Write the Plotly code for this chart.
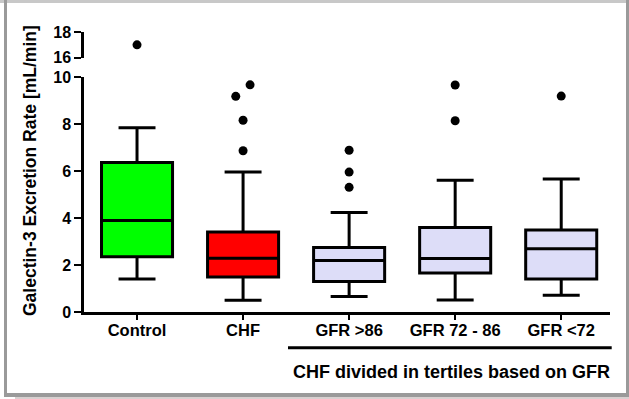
import plotly.graph_objects as go

categories = ["Control", "CHF", "GFR >86", "GFR 72 - 86", "GFR <72"]
lower_whisker = [1.41, 0.50, 0.66, 0.51, 0.71]
q1 = [2.35, 1.49, 1.30, 1.66, 1.41]
median = [3.90, 2.29, 2.19, 2.28, 2.69]
q3 = [6.37, 3.41, 2.75, 3.60, 3.49]
upper_whisker = [7.85, 5.97, 4.24, 5.61, 5.67]
fill_colors = ["#00FF00", "#FF0000", "#DDDDF8", "#DDDDF8", "#DDDDF8"]

# outliers (group index, value, horizontal jitter in category units)
outlier_group = [1, 1, 1, 1, 2, 2, 2, 3, 3, 4]
outlier_value = [9.68, 9.19, 8.17, 6.87, 6.89, 5.96, 5.31, 9.67, 8.15, 9.20]
outlier_jitter = [0.066, -0.069, 0, 0, 0, 0, 0, 0, 0, 0]
# outliers on the upper (broken) segment of the axis
upper_outlier_group = [0]
upper_outlier_value = [17.0]

lower_ticks = [0, 2, 4, 6, 8, 10]
upper_ticks = [16, 18]

W, H = 629, 399
L, R, T, B = 84, 19, 32, 87
PW, PH = W - L - R, H - T - B


def px(x):
    return (x - L) / PW


def py(y):
    return (H - B - y) / PH


FONT = "Liberation Sans"
fig = go.Figure()
for i, c in enumerate(categories):
    fig.add_trace(go.Box(
        x=[i], q1=[q1[i]], median=[median[i]], q3=[q3[i]],
        lowerfence=[lower_whisker[i]], upperfence=[upper_whisker[i]],
        width=0.67, whiskerwidth=0.52, fillcolor=fill_colors[i],
        line=dict(color="black", width=3), boxpoints=False,
        showlegend=False, name=c,
    ))

fig.add_trace(go.Scatter(
    x=[g + j for g, j in zip(outlier_group, outlier_jitter)], y=outlier_value,
    mode="markers", marker=dict(color="black", size=9), showlegend=False,
))
fig.add_trace(go.Scatter(
    x=upper_outlier_group, y=upper_outlier_value, yaxis="y2",
    mode="markers", marker=dict(color="black", size=9), showlegend=False,
))

xtickfont = dict(family=FONT, size=16.5, color="black", weight="bold")
ytickfont = dict(family=FONT, size=16, color="black", weight="bold")
lower_top = py(77.3)
upper_bottom = py(57.7)

fig.update_layout(
    width=W, height=H, margin=dict(l=L, r=R, t=T, b=B),
    paper_bgcolor="white", plot_bgcolor="white",
    xaxis=dict(range=[-0.5, 4.46], tickvals=list(range(len(categories))),
               ticktext=categories, showline=True, linecolor="black", linewidth=2.5,
               ticks="outside", ticklen=5, tickwidth=2, tickcolor="black",
               ticklabelstandoff=-4,
               tickfont=xtickfont, showgrid=False, zeroline=False),
    yaxis=dict(domain=[0, lower_top], range=[0, 10], tickvals=lower_ticks,
               showline=True, linecolor="black", linewidth=2.5,
               ticks="outside", ticklen=7, tickwidth=2, tickcolor="black",
               tickfont=ytickfont, showgrid=False, zeroline=False),
    yaxis2=dict(domain=[upper_bottom, 1], range=[16, 18], tickvals=upper_ticks,
                anchor="x", showline=True, linecolor="black", linewidth=2.5,
                ticks="outside", ticklen=7, tickwidth=2, tickcolor="black",
                tickfont=ytickfont, showgrid=False, zeroline=False),
)

fig.add_annotation(text="Galectin-3 Excretion Rate [mL/min]", textangle=-90,
                   xref="paper", yref="paper", x=px(30), y=py(171),
                   xanchor="center", yanchor="middle",
                   showarrow=False, font=dict(family=FONT, size=17.5, color="black", weight="bold"))
fig.add_annotation(text="CHF divided in tertiles based on GFR",
                   xref="paper", yref="paper", x=px(451.7), y=py(371.7),
                   xanchor="center", yanchor="middle",
                   showarrow=False, font=dict(family=FONT, size=18, color="black", weight="bold"))

shapes = [
    dict(type="line", xref="paper", yref="paper", x0=px(288), x1=px(611.7), y0=py(347.7), y1=py(347.7),
         line=dict(color="black", width=3)),
    # frame
    dict(type="rect", xref="paper", yref="paper", x0=px(0), x1=px(629), y0=py(0), y1=py(3),
         fillcolor="#C8C8C8", line_width=0),
    dict(type="rect", xref="paper", yref="paper", x0=px(4), x1=px(7), y0=py(0), y1=py(397),
         fillcolor="#9A9A9A", line_width=0),
    dict(type="rect", xref="paper", yref="paper", x0=px(626), x1=px(629), y0=py(0), y1=py(397),
         fillcolor="#9A9A9A", line_width=0),
    dict(type="rect", xref="paper", yref="paper", x0=px(4), x1=px(629), y0=py(393), y1=py(397),
         fillcolor="#9A9A9A", line_width=0),
    dict(type="rect", xref="paper", yref="paper", x0=px(15), x1=px(629), y0=py(397), y1=py(399),
         fillcolor="#D8D0D0", line_width=0),
]
fig.update_layout(shapes=shapes)

fig.write_html("out.html")
